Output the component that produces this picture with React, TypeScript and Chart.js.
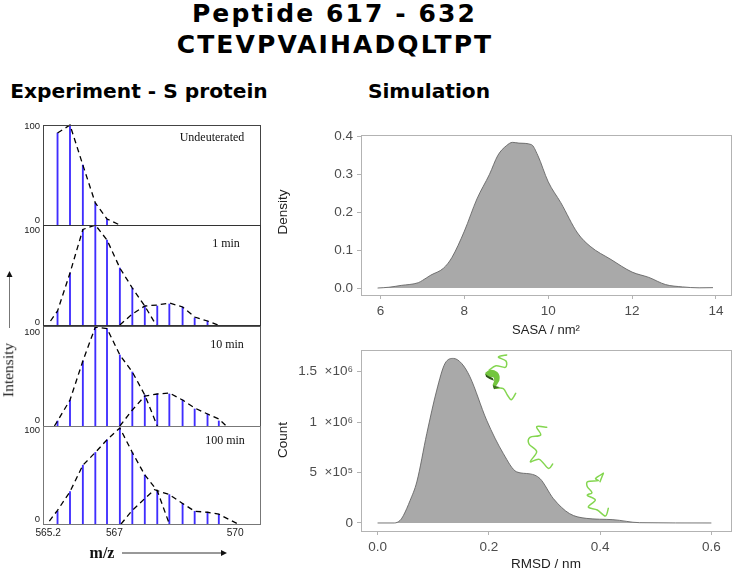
import React, { useEffect, useRef } from "react";
import { Chart, registerables } from "chart.js";

Chart.register(...registerables);

// ---------- experiment data (m/z, relative intensity) ----------
const stickMz = [565.44, 565.76, 566.09, 566.41, 566.71, 567.04, 567.36, 567.68, 568.0, 568.31, 568.65, 568.96, 569.29, 569.58];

const undeuteratedSticks = [92, 100, 60, 22, 6];
const min1Sticks = [14, 52, 95.5, 100, 85, 57, 37, 19, 19, 21, 18, 7, 4];
const min10Sticks = [5, 26, 65, 99, 97.5, 71, 54, 31, 32, 32, 26, 17, 12, 5];
const min100Sticks = [13, 33, 60, 73, 86, 98, 73, 50, 34, 30, 21, 13, 12, 10];

const undeuteratedEnv = [[565.44, 92], [565.76, 100], [566.09, 60], [566.41, 22], [566.71, 6], [567.04, 0]];
const min1EnvA = [[565.26, 4], [565.44, 14], [565.76, 52], [566.09, 95.5], [566.41, 100], [566.71, 85], [567.04, 57], [567.36, 37], [567.68, 19], [567.97, 0]];
const min1EnvB = [[567.04, 0], [567.36, 11], [567.68, 19], [568.0, 20], [568.31, 22], [568.65, 18], [568.96, 8], [569.29, 4], [569.55, 0]];
const min10EnvA = [[565.36, 0], [565.44, 5], [565.76, 26], [566.09, 65], [566.41, 99], [566.71, 97.5], [567.04, 71], [567.36, 54], [567.68, 31], [568.0, 0]];
const min10EnvB = [[567.04, 0], [567.36, 16], [567.68, 30], [568.0, 32], [568.31, 33], [568.65, 26], [568.96, 18], [569.29, 12], [569.58, 7], [569.77, 0]];
const min100EnvA = [[565.23, 3], [565.44, 14], [565.76, 33], [566.09, 60], [566.41, 73], [566.71, 86], [567.04, 98], [567.36, 73], [567.68, 50], [568.0, 34], [568.31, 0]];
const min100EnvB = [[567.07, 0], [567.36, 14], [567.68, 26], [567.93, 35], [568.31, 30], [568.65, 21], [568.96, 13], [569.29, 12], [569.58, 10], [570.07, 0]];

const mzTickValues = [565.2, 566.9, 570];
const mzTickLabels = ["565.2", "567", "570"];
const intensityTickLabels = ["0", "100"];

// ---------- simulation data ----------
const sasaX = [5.93, 6.2, 6.5, 6.9, 7.0, 7.2, 7.5, 7.7, 8.0, 8.3, 8.6, 8.8, 9.0, 9.15, 9.3, 9.6, 9.75, 10.0, 10.3, 10.7, 11.0, 11.5, 12.0, 12.4, 12.8, 13.2, 13.6, 13.93];
const sasaDensity = [0, 0.002, 0.007, 0.014, 0.02, 0.034, 0.052, 0.08, 0.15, 0.235, 0.3, 0.35, 0.375, 0.384, 0.382, 0.378, 0.35, 0.28, 0.225, 0.145, 0.11, 0.075, 0.042, 0.028, 0.009, 0.003, 0.0005, 0.001];
const rmsdX = [0, 0.03, 0.0406, 0.0466, 0.0586, 0.0705, 0.0885, 0.1064, 0.1213, 0.1363, 0.151, 0.166, 0.196, 0.226, 0.25, 0.274, 0.292, 0.316, 0.345, 0.375, 0.423, 0.471, 0.6];
const rmsdCount = [0, 0, 26500, 76000, 225000, 407000, 887000, 1318000, 1583000, 1632000, 1583000, 1450000, 1020000, 689000, 507000, 487000, 440000, 242000, 93000, 46000, 33000, 3000, 0];

const countTickValues = [0, 500000, 1000000, 1500000];
const countTickLabels = ["0", "5  ×10⁵", "1  ×10⁶", "1.5  ×10⁶"];

const pairs = (xs: number[], ys: number[]) => ys.map((y, i) => ({ x: xs[i], y }));
const envPts = (e: number[][]) => e.map(([x, y]) => ({ x, y }));

const boxPlugin = {
  id: "boxPlugin",
  afterDraw(chart: any, _a: any, opts: any) {
    const { left, top, right, bottom } = chart.chartArea;
    const c = chart.ctx;
    c.save();
    c.strokeStyle = opts.color;
    c.lineWidth = 1;
    c.strokeRect(left + 0.5, top + 0.5, right - left, bottom - top);
    c.restore();
  },
};

type Box = { left: number; top: number; right: number; bottom: number; yw: number; xh: number };

function frame(b: Box) {
  const pad = 20;
  const cLeft = b.left - b.yw;
  const cTop = b.top - pad;
  const width = b.right + pad - cLeft;
  const height = b.bottom + b.xh + pad - cTop;
  return { cLeft, cTop, width, height, padding: { left: 0, right: pad, top: pad, bottom: pad } };
}

function ChartBox({ box, config }: { box: Box; config: any }) {
  const ref = useRef<HTMLCanvasElement>(null);
  const f = frame(box);
  useEffect(() => {
    const chart = new Chart(ref.current as any, config);
    return () => chart.destroy();
  }, []);
  return (
    <canvas
      ref={ref}
      width={f.width}
      height={f.height}
      style={{ position: "absolute", left: f.cLeft, top: f.cTop, width: f.width, height: f.height }}
    />
  );
}

const SANS = "'Liberation Sans', Arial, sans-serif";
const SERIF = "'Liberation Serif', serif";
const DEJAVU = "'DejaVu Sans', sans-serif";

function spectrumConfig(
  box: Box,
  sticks: number[],
  envs: number[][][],
  labelTicks: number[],
  showX: boolean,
  border: string,
) {
  const f = frame(box);
  return {
    type: "bar",
    data: {
      datasets: [
        {
          type: "bar",
          data: pairs(stickMz, sticks),
          backgroundColor: "#3f2dff",
          barThickness: 1.2,
          order: 2,
        },
        ...envs.map((e) => ({
          type: "line",
          data: envPts(e),
          borderColor: "#000",
          borderWidth: 1.3,
          borderDash: [5.5, 4],
          pointRadius: 0,
          tension: 0,
          fill: false,
          order: 1,
          clip: false,
        })),
      ],
    },
    options: {
      animation: false,
      responsive: false,
      devicePixelRatio: 1,
      layout: { padding: f.padding },
      plugins: { legend: { display: false }, tooltip: { enabled: false }, boxPlugin: { color: border } },
      scales: {
        x: {
          type: "linear",
          offset: false,
          min: 565.067,
          max: 570.637,
          display: showX,
          grid: { display: false, drawTicks: false },
          border: { display: false },
          afterBuildTicks: (s: any) => {
            s.ticks = mzTickValues.map((value) => ({ value }));
          },
          afterFit: (s: any) => {
            s.height = box.xh;
          },
          ticks: {
            autoSkip: false,
            maxRotation: 0,
            padding: 3,
            color: "#222",
            font: { family: SANS, size: 10.2 },
            callback: (v: number) => mzTickLabels[mzTickValues.indexOf(v)],
          },
        },
        y: {
          type: "linear",
          min: 0,
          max: 100,
          grid: { display: false, drawTicks: false },
          border: { display: false },
          afterBuildTicks: (s: any) => {
            s.ticks = labelTicks.map((value) => ({ value }));
          },
          afterFit: (s: any) => {
            s.width = box.yw;
          },
          ticks: {
            autoSkip: false,
            padding: 3,
            color: "#222",
            font: { family: SANS, size: 9.5 },
            callback: (v: number) => intensityTickLabels[labelTicks.indexOf(v)],
          },
        },
      },
    },
    plugins: [boxPlugin],
  };
}

function densityConfig(
  box: Box,
  pts: { x: number; y: number }[],
  xr: number[],
  yr: number[],
  xStep: number,
  xFmt: (v: number) => string,
  yTicks: number[],
  yFmt: (v: number) => string,
  xTitle: string,
  xTitleSize: number,
) {
  const f = frame(box);
  const tickGrid = { display: true, drawOnChartArea: false, drawTicks: true, tickLength: 4, color: "#b3b3b3" };
  return {
    type: "line",
    data: {
      datasets: [
        {
          data: pts,
          borderColor: "#666",
          borderWidth: 0.9,
          backgroundColor: "#a9a9a9",
          fill: "origin",
          pointRadius: 0,
          cubicInterpolationMode: "monotone",
        },
      ],
    },
    options: {
      animation: false,
      responsive: false,
      devicePixelRatio: 1,
      layout: { padding: f.padding },
      plugins: { legend: { display: false }, tooltip: { enabled: false }, boxPlugin: { color: "#b3b3b3" } },
      scales: {
        x: {
          type: "linear",
          min: xr[0],
          max: xr[1],
          grid: tickGrid,
          border: { display: false },
          afterFit: (s: any) => {
            s.height = box.xh;
          },
          afterBuildTicks: (s: any) => {
            const t = [];
            for (let v = Math.ceil(xr[0] / xStep); v * xStep <= xr[1]; v++) t.push({ value: v * xStep });
            s.ticks = t;
          },
          ticks: { autoSkip: false, maxRotation: 0, padding: 4, color: "#4d4d4d", font: { family: SANS, size: 13.5 }, callback: xFmt },
          title: { display: true, text: xTitle, color: "#222", font: { family: SANS, size: xTitleSize }, padding: 0 },
        },
        y: {
          type: "linear",
          min: yr[0],
          max: yr[1],
          grid: tickGrid,
          border: { display: false },
          afterFit: (s: any) => {
            s.width = box.yw;
          },
          afterBuildTicks: (s: any) => {
            s.ticks = yTicks.map((value) => ({ value }));
          },
          ticks: { autoSkip: false, padding: 4, color: "#4d4d4d", font: { family: SANS, size: 13.5 }, callback: yFmt },
        },
      },
    },
    plugins: [boxPlugin],
  };
}

const spectrumBoxes: Box[] = [
  { left: 43, top: 125, right: 260, bottom: 225, yw: 40, xh: 0 },
  { left: 43, top: 225, right: 260, bottom: 325, yw: 40, xh: 0 },
  { left: 43, top: 326, right: 260, bottom: 426, yw: 40, xh: 0 },
  { left: 43, top: 426, right: 260, bottom: 524, yw: 40, xh: 20 },
];
const sasaBox: Box = { left: 361, top: 135, right: 731, bottom: 295, yw: 85, xh: 43 };
const rmsdBox: Box = { left: 361, top: 350, right: 731, bottom: 531, yw: 85, xh: 41 };

const configs = [
  spectrumConfig(spectrumBoxes[0], undeuteratedSticks, [undeuteratedEnv], [4.5, 99], false, "#444"),
  spectrumConfig(spectrumBoxes[1], min1Sticks, [min1EnvA, min1EnvB], [3, 95], false, "#333"),
  spectrumConfig(spectrumBoxes[2], min10Sticks, [min10EnvA, min10EnvB], [6, 94], false, "#555"),
  spectrumConfig(spectrumBoxes[3], min100Sticks, [min100EnvA, min100EnvB], [5, 96], true, "#777"),
  densityConfig(sasaBox, pairs(sasaX, sasaDensity), [5.534, 14.36], [-0.0184, 0.4034], 2, (v) => String(v), [0, 0.1, 0.2, 0.3, 0.4], (v) => v.toFixed(1), "SASA / nm²", 13),
  densityConfig(rmsdBox, pairs(rmsdX, rmsdCount), [-0.0298, 0.6353], [-79500, 1715500], 0.2, (v) => v.toFixed(1), countTickValues, (v) => countTickLabels[countTickValues.indexOf(v)], "RMSD / nm", 13.5),
];
const allBoxes = [...spectrumBoxes, sasaBox, rmsdBox];

const text = (style: React.CSSProperties): React.CSSProperties => ({ position: "absolute", whiteSpace: "nowrap", lineHeight: 1, ...style });
const center = (x: number, y: number): React.CSSProperties => ({ left: x, top: y, transform: "translate(-50%,-50%)" });
const rotated = (x: number, y: number): React.CSSProperties => ({ left: x, top: y, transform: "translate(-50%,-50%) rotate(-90deg)" });

const titleStyle = { fontFamily: DEJAVU, fontWeight: 700, color: "#000" };
const panelLabel = { fontFamily: SERIF, fontSize: 12, color: "#111" };

function smooth(p: number[][]) {
  let d = `M${p[0][0]} ${p[0][1]}`;
  for (let i = 0; i < p.length - 1; i++) {
    const a = p[Math.max(i - 1, 0)], b = p[i], c = p[i + 1], e = p[Math.min(i + 2, p.length - 1)];
    d += ` C${b[0] + (c[0] - a[0]) / 6} ${b[1] + (c[1] - a[1]) / 6} ${c[0] - (e[0] - b[0]) / 6} ${c[1] - (e[1] - b[1]) / 6} ${c[0]} ${c[1]}`;
  }
  return d;
}

export default function App() {
  return (
    <div style={{ position: "absolute", left: 0, top: 0, width: 733, height: 569, overflow: "hidden", background: "#fff" }}>
      {configs.map((c, i) => (
        <ChartBox key={i} box={allBoxes[i]} config={c} />
      ))}

      <div style={text({ ...titleStyle, ...center(334.5, 13), fontSize: 25, letterSpacing: 2.1 })}>Peptide 617 - 632</div>
      <div style={text({ ...titleStyle, ...center(335, 44), fontSize: 25, letterSpacing: 2.1 })}>CTEVPVAIHADQLTPT</div>
      <div style={text({ ...titleStyle, ...center(139, 91), fontSize: 20.2 })}>Experiment - S protein</div>
      <div style={text({ ...titleStyle, ...center(429, 91), fontSize: 20.2 })}>Simulation</div>

      <div style={text({ ...center(212, 137), ...panelLabel })}>Undeuterated</div>
      <div style={text({ ...center(226, 243), ...panelLabel })}>1 min</div>
      <div style={text({ ...center(227, 344), ...panelLabel })}>10 min</div>
      <div style={text({ ...center(225, 440), ...panelLabel })}>100 min</div>

      <div style={text({ ...rotated(8, 370), fontFamily: SERIF, fontSize: 15.5, color: "#222" })}>Intensity</div>
      <div style={text({ ...center(102, 553), fontFamily: SERIF, fontSize: 16, fontWeight: 700, color: "#111" })}>m/z</div>
      <div style={text({ ...rotated(283, 212), fontFamily: SANS, fontSize: 13.5, color: "#222" })}>Density</div>
      <div style={text({ ...rotated(283, 440), fontFamily: SANS, fontSize: 13.5, color: "#222" })}>Count</div>

      <svg width={733} height={569} style={{ position: "absolute", left: 0, top: 0, pointerEvents: "none" }}>
        <line x1={9.5} y1={328} x2={9.5} y2={274} stroke="#777" strokeWidth={1} />
        <polygon points="9.5,271 6.5,277 12.5,277" fill="#111" />
        <line x1={122} y1={553} x2={222} y2={553} stroke="#333" strokeWidth={1} />
        <polygon points="227,553 221,550 221,556" fill="#111" />
      </svg>

      <svg viewBox="0 0 480 540" width={160} height={180} style={{ position: "absolute", left: 470, top: 350, pointerEvents: "none" }}>
        <g fill="none" stroke="#84d650" strokeWidth={4.5} strokeLinecap="round" strokeLinejoin="round">
          <path d={smooth([[110, 15], [85, 21], [108, 33], [106, 52], [78, 47], [58, 60]])} />
          <path d={smooth([[78, 115], [100, 116], [112, 135], [124, 149], [137, 130]])} />
          <path d={smooth([[230, 232], [200, 230], [212, 255], [180, 262], [177, 282], [200, 305], [181, 335], [208, 328], [235, 355], [248, 342]])} />
          <path d={smooth([[400, 370], [377, 385], [384, 392], [353, 395], [352, 410], [366, 428], [352, 436], [376, 450], [355, 471], [382, 480], [406, 498], [415, 475]])} />
          <path d="M400 370 L390 395" />
        </g>
        <path d="M46 68 Q62 52 82 66 Q92 76 88 92 Q82 104 72 116 L68 104 Q76 90 70 82 Q58 82 46 74 Z" fill="#73c63e" />
        <path d="M46 72 Q56 80 68 84 L72 92 Q58 88 48 80 Z" fill="#2c5416" />
        <path d="M68 106 L90 112 L72 118 Z" fill="#3d7320" />
      </svg>
    </div>
  );
}
